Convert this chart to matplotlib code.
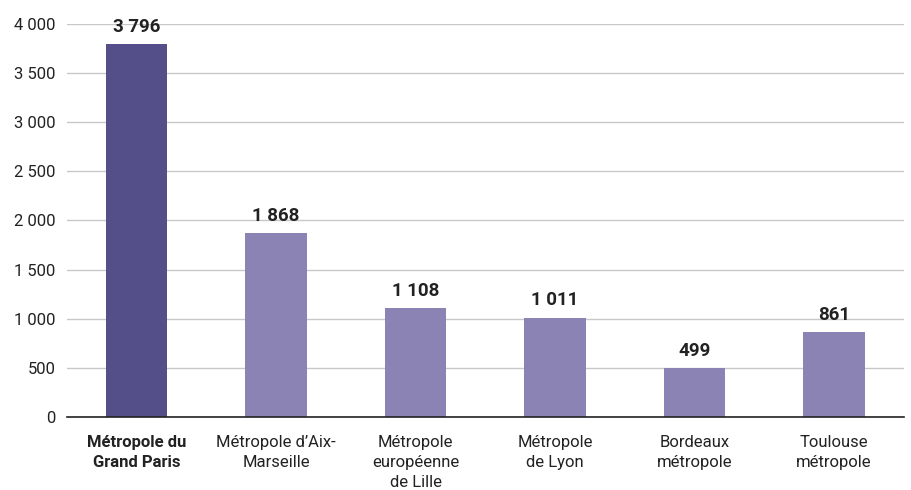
import matplotlib
matplotlib.use("Agg")
import matplotlib.pyplot as plt

categories = ["Métropole du\nGrand Paris", "Métropole d’Aix-\nMarseille", "Métropole\neuropéenne\nde Lille",
              "Métropole\nde Lyon", "Bordeaux\nmétropole", "Toulouse\nmétropole"]
values = [3796, 1868, 1108, 1011, 499, 861]
value_labels = ["3 796", "1 868", "1 108", "1 011", "499", "861"]
yticks = [0, 500, 1000, 1500, 2000, 2500, 3000, 3500, 4000]
ytick_labels = ["0", "500", "1 000", "1 500", "2 000", "2 500", "3 000", "3 500", "4 000"]
colors = ["#544E89", "#8A83B4", "#8A83B4", "#8A83B4", "#8A83B4", "#8A83B4"]

plt.rcParams['font.family'] = ['Roboto', 'DejaVu Sans']

fig = plt.figure(figsize=(9.11, 4.9), dpi=100)
ax = fig.add_axes([0.0735, 0.149, 0.9185, 0.802])

x = list(range(len(categories)))
ax.bar(x, values, width=0.44, color=colors, zorder=3)
for xi, v, lab in zip(x, values, value_labels):
    ax.text(xi, v + 85, lab, ha='center', va='bottom', fontsize=13.5, fontweight='bold', color='#222222', zorder=4)

ax.set_xlim(-0.5, len(categories) - 0.5)
ax.set_ylim(0, 4000)
ax.set_yticks(yticks)
ax.set_yticklabels(ytick_labels, fontsize=12, color='#222222')
ax.set_xticks(x)
ax.set_xticklabels(categories, fontsize=12, color='#222222', linespacing=1.4, va='top')
ax.get_xticklabels()[0].set_fontweight('bold')
ax.tick_params(axis='both', length=0)
ax.tick_params(axis='y', pad=8)
ax.tick_params(axis='x', pad=13)

ax.yaxis.grid(True, color='#C8C8C8', linewidth=1, zorder=0)
for s in ['top', 'right', 'left']:
    ax.spines[s].set_visible(False)
ax.spines['bottom'].set_color('#222222')
ax.spines['bottom'].set_linewidth(1.2)
ax.spines['bottom'].set_zorder(5)

fig.savefig("out.png", dpi=100)
